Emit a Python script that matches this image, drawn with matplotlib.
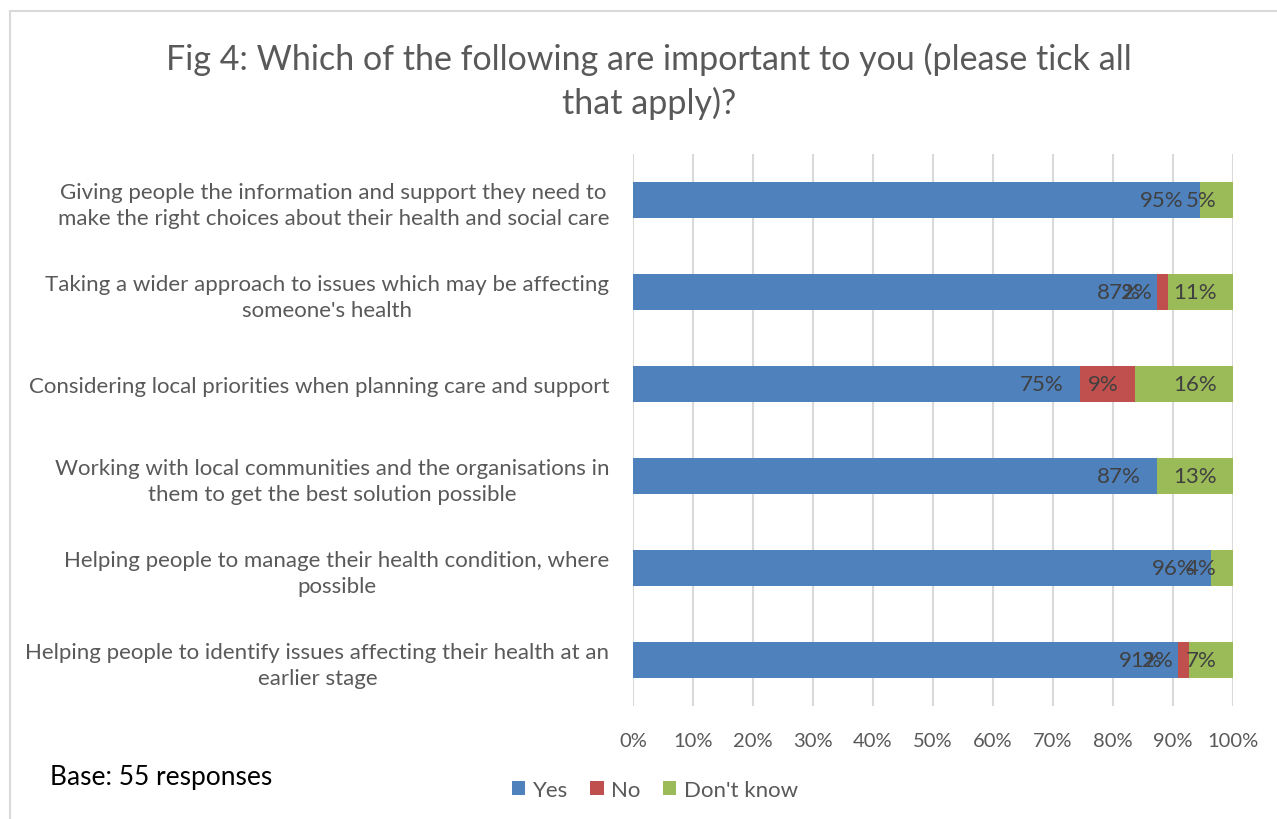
import matplotlib.pyplot as plt
import numpy as np

plt.rcParams['font.family'] = ['Lato', 'DejaVu Sans']

# data (percent of 55 responses)
categories = [
    "Giving people the information and support they need to\nmake the right choices about their health and social care",
    "Taking a wider approach to issues which may be affecting\nsomeone's health",
    "Considering local priorities when planning care and support",
    "Working with local communities and the organisations in\nthem to get the best solution possible",
    "Helping people to manage their health condition, where\npossible",
    "Helping people to identify issues affecting their health at an\nearlier stage",
]
yes = [94.5, 87.3, 74.5, 87.3, 96.4, 90.9]
no = [0, 1.8, 9.1, 0, 0, 1.8]
dont_know = [5.5, 10.9, 16.4, 12.7, 3.6, 7.3]
labels_yes = ["95%", "87%", "75%", "87%", "96%", "91%"]
labels_no = ["", "2%", "9%", "", "", "2%"]
labels_dk = ["5%", "11%", "16%", "13%", "4%", "7%"]
series_names = ["Yes", "No", "Don't know"]
colors = ['#4F81BD', '#C0504D', '#9BBB59']

fig = plt.figure(figsize=(12.77, 8.2), dpi=100)
ax = fig.add_axes([633/1277, 113/820, 600/1277, 552/820])

# outer chart frame (only top and left visible)
fig.add_artist(plt.Line2D([10/1277, 1], [1 - 12/820, 1 - 12/820], color='#d9d9d9', lw=1.5))
fig.add_artist(plt.Line2D([10/1277, 10/1277], [0, 1 - 12/820], color='#d9d9d9', lw=1.5))

y = np.arange(len(categories))
left = np.zeros(len(categories))
for vals, labs, name, col in zip([yes, no, dont_know], [labels_yes, labels_no, labels_dk],
                                 series_names, colors):
    vals = np.array(vals)
    ax.barh(y, vals, left=left, height=0.4, color=col, label=name, zorder=3)
    for yi, l, v, lab in zip(y, left, vals, labs):
        if lab:
            ax.text(l + v - 2.7, yi, lab, ha='right', va='center',
                    fontsize=16, color='#404040', zorder=4)
    left += vals

ax.set_xlim(0, 100)
ax.set_ylim(len(categories) - 0.5, -0.5)
ax.set_xticks(np.arange(0, 101, 10))
ax.set_xticklabels([f"{t}%" for t in range(0, 101, 10)], fontsize=14.5, color='#595959')
ax.set_yticks(y)
ax.set_yticklabels(categories, fontsize=16, color='#595959', multialignment='center',
                   linespacing=1.4)
ax.tick_params(axis='both', length=0)
ax.tick_params(axis='x', pad=19)
ax.tick_params(axis='y', pad=17)
ax.grid(axis='x', color='#d9d9d9', lw=1.5, zorder=0)
for s in ax.spines.values():
    s.set_visible(False)

fig.text(649/1277, 1 - 81/820, "Fig 4: Which of the following are important to you (please tick all\nthat apply)?",
         ha='center', va='center', fontsize=24.5, color='#595959', linespacing=1.4)

fig.text(50/1277, 1 - 778/820, "Base: 55 responses", ha='left', va='center', fontsize=19, color='black')

fig.legend(loc='center', bbox_to_anchor=(655/1277, 1 - 791/820), ncol=3, frameon=False,
           fontsize=16, handlelength=0.6, handleheight=0.6, handletextpad=0.35, columnspacing=1.0,
           labelcolor='#595959')

fig.savefig('out.png', dpi=100)
